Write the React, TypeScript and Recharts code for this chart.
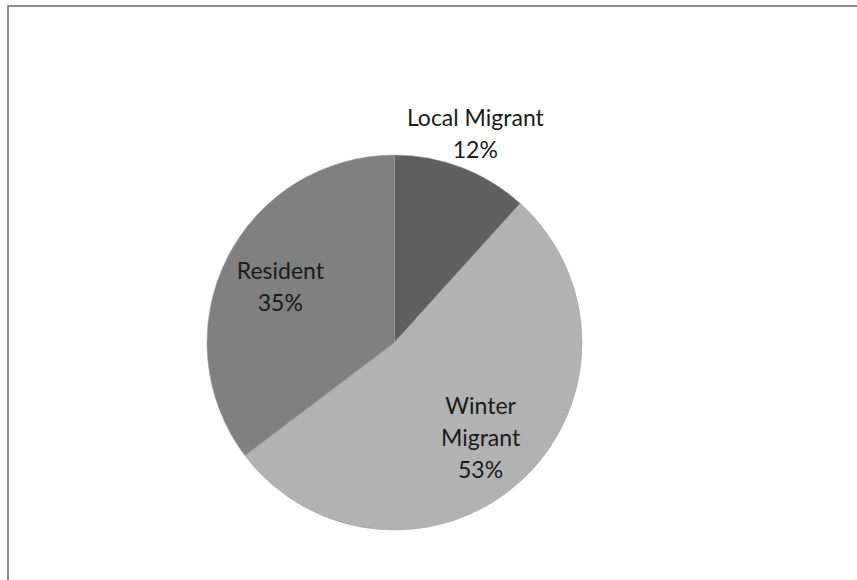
import React from "react";
import { PieChart, Pie, Cell } from "recharts";

const categories = ["Local Migrant", "Winter Migrant", "Resident"];
const shares = [11.7, 53.0, 35.3];
const colors = ["#606060", "#b2b2b2", "#808080"];

const data = categories.map((name, i) => ({ name, value: shares[i] }));

const RAD = Math.PI / 180;

function renderLabel(props: any) {
  const { cx, cy, midAngle, outerRadius, percent, name } = props;
  // small slices get their label outside, the rest sit inside
  const outside = percent < 0.15;
  const r = outside ? outerRadius * 1.2 : outerRadius * 0.68;
  const x = cx + r * Math.cos(-midAngle * RAD);
  const y = cy + r * Math.sin(-midAngle * RAD);
  const lines = outside ? [name] : name.split(" ");
  lines.push(`${Math.round(percent * 100)}%`);
  const lh = 32;
  const y0 = y - ((lines.length - 1) * lh) / 2;
  return (
    <text
      x={x}
      y={y0}
      textAnchor="middle"
      dominantBaseline="central"
      fontFamily="Lato, 'Open Sans', sans-serif"
      fontSize={23}
      fill="#1a1a1a"
    >
      {lines.map((l: string, i: number) => (
        <tspan key={i} x={x} y={y0 + i * lh}>
          {l}
        </tspan>
      ))}
    </text>
  );
}

export default function App() {
  return (
    <div style={{ position: "absolute", left: 0, top: 0, width: 857, height: 580, background: "#fff" }}>
      <div
        style={{
          position: "absolute",
          left: 7,
          top: 5,
          width: 850,
          height: 575,
          borderTop: "2px solid #8c8c8c",
          borderLeft: "2px solid #8c8c8c",
          boxSizing: "border-box",
        }}
      />
      <PieChart width={857} height={580} margin={{ top: 0, right: 0, bottom: 0, left: 0 }}>
        <Pie
          data={data}
          dataKey="value"
          nameKey="name"
          cx={394.5}
          cy={342.5}
          outerRadius={187.5}
          startAngle={90}
          endAngle={-270}
          stroke="#9a9a9a"
          strokeWidth={0.5}
          label={renderLabel}
          labelLine={false}
          isAnimationActive={false}
        >
          {data.map((d, i) => (
            <Cell key={d.name} fill={colors[i]} />
          ))}
        </Pie>
      </PieChart>
    </div>
  );
}
